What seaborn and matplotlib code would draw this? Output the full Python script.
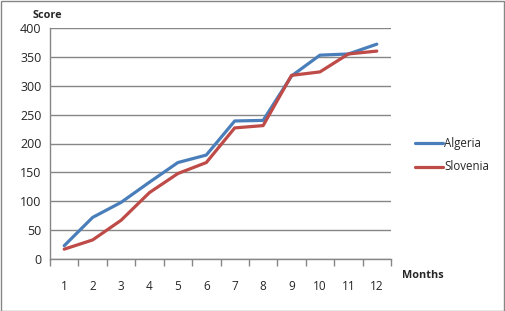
import matplotlib
matplotlib.use("Agg")
import matplotlib.pyplot as plt
import seaborn as sns
import pandas as pd
from matplotlib.patches import Rectangle

months = list(range(1, 13))
algeria = [23, 72, 98, 133, 167, 180, 239, 240, 317, 353, 355, 372]
slovenia = [17, 33, 67, 115, 148, 167, 227, 231, 318, 324, 355, 360]
series_names = ["Algeria", "Slovenia"]
colors = ["#4A7EBB", "#BE4B48"]

df = pd.DataFrame({
    "Month": months * 2,
    "Score": algeria + slovenia,
    "Country": [series_names[0]] * 12 + [series_names[1]] * 12,
})

sns.set_theme(style="white")
plt.rcParams["font.family"] = ["Open Sans", "DejaVu Sans"]

W, H = 505, 311
fig = plt.figure(figsize=(W / 100, H / 100), dpi=100)
ax = fig.add_axes([50 / W, 1 - 259 / H, (391 - 50) / W, (259 - 28) / H])

sns.lineplot(data=df, x="Month", y="Score", hue="Country", palette=colors,
             linewidth=2.3, ax=ax, legend=False)

ax.set_xlim(0.5, 12.5)
ax.set_ylim(0, 400)
ax.set_yticks(range(0, 401, 50))
ax.set_xticks(months)
ax.set_xticks([m + 0.5 for m in range(0, 13)], minor=True)
ax.grid(axis="y", color="#868686", linewidth=1)
ax.set_axisbelow(True)
for s in ["top", "right"]:
    ax.spines[s].set_visible(False)
for s in ["left", "bottom"]:
    ax.spines[s].set_color("#868686")
    ax.spines[s].set_linewidth(1)
ax.tick_params(axis="x", which="major", length=0, pad=15, labelsize=8.5)
ax.tick_params(axis="x", which="minor", length=5, color="#868686", width=1, bottom=True)
ax.tick_params(axis="y", length=0, pad=6, labelsize=9)
ax.set_xlabel("")
ax.set_ylabel("")

fig.text(33 / W, 1 - 16 / H, "Score", fontsize=7.8, fontweight="bold", va="center", ha="left")
fig.text(402 / W, 1 - 275 / H, "Months", fontsize=7.8, fontweight="bold", va="center", ha="left")

# legend
for i, (name, c) in enumerate(zip(series_names, colors)):
    y = 1 - (143 + 24 * i) / H
    fig.add_artist(plt.Line2D([415 / W, 443 / W], [y, y], color=c, linewidth=2.3,
                              transform=fig.transFigure))
    fig.text(444 / W, y, name, fontsize=8.3, va="center", ha="left")

fig.add_artist(Rectangle((0.5 / W, 0.5 / H), (W - 1.5) / W, (H - 1.5) / H, fill=False,
                         edgecolor="#868686", linewidth=1, transform=fig.transFigure))

fig.savefig("out.png", dpi=100)
